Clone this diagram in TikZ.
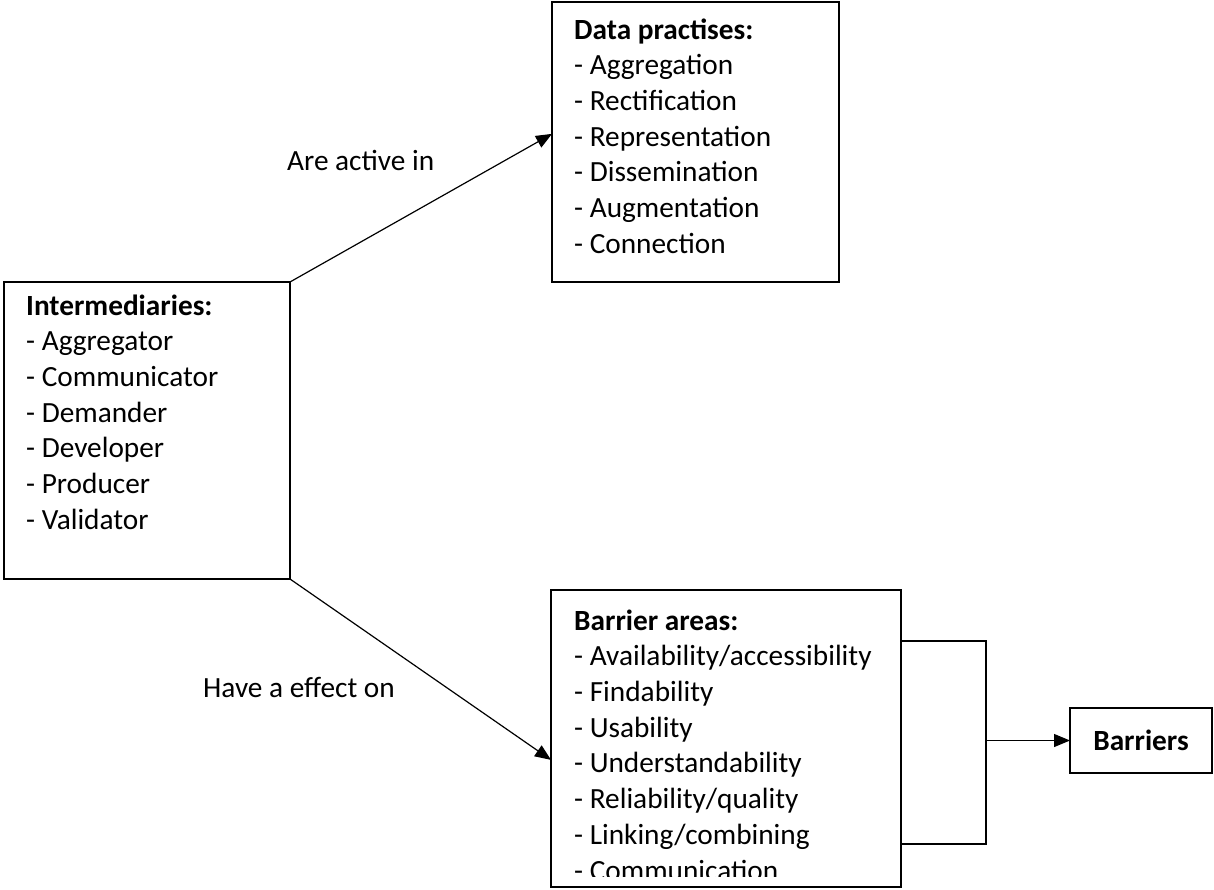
\documentclass[tikz,border=0pt]{standalone}
\usepackage{fontspec}
\setmainfont{Carlito}
\usetikzlibrary{arrows.meta,calc}
\begin{document}
\begin{tikzpicture}[x=1pt,y=-1pt,
  box/.style={draw, line width=2.6pt, inner sep=0pt, outer sep=0pt},
  list/.style={anchor=north west, align=left, inner sep=0pt,
               font=\fontsize{29.3}{35.7}\selectfont},
  lbl/.style={anchor=base west, inner sep=0pt,
              font=\fontsize{29.3}{35.7}\selectfont},
  wire/.style={line width=1.2pt},
  link/.style={wire, -{Triangle[length=16pt,width=13pt]}}]
\useasboundingbox (0,0) rectangle (1214,890);
\fill[white] (0,0) rectangle (1214,890);

% frames
\node[box, minimum width=286, minimum height=297] (int) at (147,430.5) {};
\node[box, minimum width=287, minimum height=280] (dp)  at (695.5,142) {};
\node[box, minimum width=350, minimum height=297] (ba)  at (726,738.5) {};
\node[box, minimum width=142, minimum height=65,
      font=\fontsize{29.3}{35.7}\selectfont\bfseries] (bar) at (1141,740.5) {Barriers};

% lists inside the frames
\node[list] (intText) at (26,290) {\textbf{Intermediaries:}\strut\\
  - Aggregator\\ - Communicator\\ - Demander\\ - Developer\\ - Producer\\ - Validator};
\node[list] (dpText) at (574,14) {\textbf{Data practises:}\strut\\
  - Aggregation\\ - Rectification\\ - Representation\\ - Dissemination\\
  - Augmentation\\ - Connection};
\begin{scope}
  \clip (553,592) rectangle (899,876);
  \node[list] (baText) at (574,605) {\textbf{Barrier areas:}\strut\\
    - Availability/accessibility\\ - Findability\\ - Usability\\
    - Understandability\\ - Reliability/quality\\ - Linking/combining\\
    - Communication};
\end{scope}

% connectors
\draw[link] (int.north east) -- ($(dp.north west)!0.471!(dp.south west)$);
\draw[link] (int.south east) -- ($(ba.north west)!0.572!(ba.south west)$);
\coordinate (join) at ($(bar.west)+(-84,0)$);
\draw[wire] ($(ba.north east)!0.172!(ba.south east)$) -| (join)
            |- ($(ba.north east)!0.855!(ba.south east)$);
\draw[link] (join) -- (bar.west);

% connector labels
\node[lbl] (activeLbl) at (287,171) {Are active in};
\node[lbl] (effectLbl) at (203,697) {Have a effect on};
\end{tikzpicture}
\end{document}
